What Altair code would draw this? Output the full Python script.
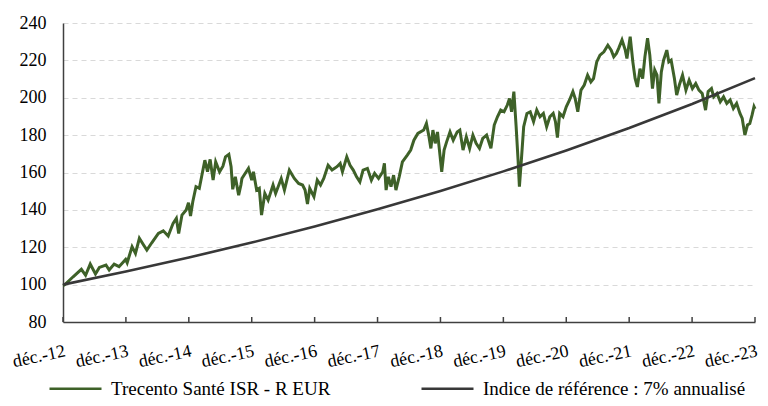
import altair as alt
import pandas as pd

# Years elapsed since end of December 2012
fund_t = [
    0.0, 0.031, 0.161, 0.292, 0.359, 0.433, 0.516, 0.578, 0.683, 0.734, 0.813, 0.891,
    0.995, 1.020, 1.098, 1.152, 1.214, 1.281, 1.333, 1.411, 1.516, 1.594, 1.672, 1.750,
    1.802, 1.839, 1.891, 1.958, 1.995, 2.027, 2.063, 2.114, 2.167, 2.203, 2.255, 2.297,
    2.339, 2.386, 2.427, 2.489, 2.542, 2.583, 2.636, 2.672, 2.698, 2.739, 2.792, 2.828,
    2.844, 2.895, 2.948, 3.000, 3.027, 3.078, 3.120, 3.156, 3.208, 3.261, 3.339, 3.380,
    3.469, 3.520, 3.598, 3.677, 3.745, 3.808, 3.848, 3.886, 3.922, 3.989, 4.042, 4.094,
    4.145, 4.214, 4.277, 4.355, 4.406, 4.442, 4.511, 4.563, 4.614, 4.667, 4.719, 4.770,
    4.839, 4.902, 4.953, 5.016, 5.083, 5.109, 5.136, 5.172, 5.214, 5.255, 5.292, 5.344,
    5.395, 5.473, 5.527, 5.578, 5.641, 5.734, 5.777, 5.813, 5.848, 5.880, 5.917, 5.953,
    5.984, 6.020, 6.058, 6.098, 6.152, 6.203, 6.266, 6.308, 6.359, 6.411, 6.464, 6.516,
    6.567, 6.620, 6.672, 6.734, 6.802, 6.855, 6.906, 6.958, 7.011, 7.063, 7.098, 7.130,
    7.167, 7.203, 7.234, 7.255, 7.286, 7.323, 7.375, 7.427, 7.480, 7.531, 7.583, 7.636,
    7.688, 7.739, 7.792, 7.828, 7.859, 7.895, 7.948, 8.000, 8.052, 8.105, 8.141, 8.183,
    8.234, 8.286, 8.339, 8.391, 8.433, 8.484, 8.536, 8.598, 8.661, 8.714, 8.755, 8.797,
    8.833, 8.886, 8.938, 8.964, 9.016, 9.058, 9.094, 9.130, 9.172, 9.214, 9.250, 9.292,
    9.328, 9.370, 9.406, 9.442, 9.473, 9.511, 9.547, 9.598, 9.630, 9.667, 9.719, 9.755,
    9.797, 9.848, 9.902, 9.953, 10.005, 10.058, 10.109, 10.161, 10.214, 10.255, 10.308, 10.344,
    10.395, 10.448, 10.500, 10.552, 10.605, 10.656, 10.708, 10.761, 10.797, 10.839, 10.880, 10.917,
    10.953, 10.984, 11.0,
]
fund_v = [
    99.5, 100.0, 104.2, 108.2, 105.0, 111.0, 105.7, 109.2, 110.5, 107.8, 111.0, 109.6,
    113.5, 111.7, 120.3, 116.7, 124.8, 121.2, 118.5, 122.4, 127.4, 128.8, 126.0, 132.8,
    135.5, 127.4, 137.2, 139.9, 143.8, 136.7, 144.4, 152.4, 151.5, 157.7, 166.6, 160.4,
    167.0, 155.9, 165.7, 160.4, 163.4, 168.4, 169.7, 163.1, 151.0, 157.7, 147.9, 153.3,
    156.8, 159.5, 162.2, 155.9, 160.4, 150.6, 151.5, 137.2, 148.8, 145.2, 153.3, 148.8,
    156.8, 150.6, 161.3, 156.8, 154.1, 153.3, 150.6, 143.1, 151.5, 147.0, 155.9, 153.3,
    156.8, 163.9, 161.3, 163.1, 164.9, 160.4, 168.4, 163.9, 161.3, 157.7, 155.0, 161.3,
    162.2, 155.9, 159.5, 156.8, 160.4, 164.9, 150.6, 157.7, 152.4, 158.6, 150.6, 157.7,
    165.7, 169.3, 172.0, 177.3, 180.9, 182.7, 186.2, 180.0, 172.9, 182.7, 175.6, 181.7,
    172.0, 160.4, 172.0, 176.4, 181.7, 177.3, 181.7, 182.7, 172.0, 179.1, 172.9, 180.0,
    175.6, 172.9, 178.2, 180.0, 172.9, 185.4, 189.8, 193.4, 192.5, 196.1, 199.6, 192.5,
    203.3, 184.5, 166.6, 152.4, 166.6, 184.5, 191.6, 192.5, 187.2, 193.4, 189.8, 191.6,
    184.5, 189.8, 191.6, 187.2, 178.7, 191.6, 189.8, 195.2, 198.8, 203.3, 199.6, 192.5,
    204.1, 206.8, 212.1, 208.5, 210.3, 219.2, 222.8, 224.6, 228.1, 225.5, 221.9, 223.7,
    226.4, 230.9, 225.5, 221.0, 232.7, 219.2, 210.3, 205.8, 215.6, 210.3, 221.9, 231.8,
    222.8, 204.9, 214.8, 212.1, 197.0, 213.8, 220.1, 225.5, 219.2, 220.1, 210.3, 201.4,
    206.8, 212.1, 204.1, 209.4, 204.9, 207.6, 204.1, 202.3, 193.4, 203.3, 204.9, 200.5,
    202.3, 197.8, 200.5, 197.0, 198.8, 194.3, 197.0, 191.6, 188.9, 180.0, 185.4, 186.2,
    190.7, 195.2, 194.0,
]

bench_t = [0, 1, 2, 3, 4, 5, 6, 7, 8, 9, 10, 11]
bench_v = [100.0, 107.0, 114.5, 122.5, 131.1, 140.3, 150.1, 160.6, 171.8, 183.8, 196.7, 210.5]

tick_years = [0, 1, 2, 3, 4, 5, 6, 7, 8, 9, 10, 11]
y_ticks = [80, 100, 120, 140, 160, 180, 200, 220, 240]
series_names = ["Trecento Santé ISR - R EUR", "Indice de référence : 7% annualisé"]
series_colors = ["#3e6128", "#383838"]

fund = pd.DataFrame({"t": fund_t, "v": fund_v, "s": series_names[0]})
bench = pd.DataFrame({"t": bench_t, "v": bench_v, "s": series_names[1]})
ticks = pd.DataFrame({"t": tick_years})

FONT = "Liberation Serif"
AXC = "#404040"

xscale = alt.Scale(domain=[0, 11], nice=False, zero=False)
yscale = alt.Scale(domain=[80, 240], nice=False, zero=False)

x_enc = alt.X(
    "t:Q",
    scale=xscale,
    axis=alt.Axis(
        values=tick_years,
        labelExpr="'déc.-' + (datum.value + 12)",
        labelAngle=-12,
        labelAlign="right",
        labelBaseline="top",
        labelPadding=20,
        ticks=False,
        tickSize=0,
        grid=False,
        domainColor=AXC,
        domainWidth=1.5,
        labelFont=FONT,
        labelFontSize=18,
        labelColor="#000000",
        title=None,
    ),
)
y_enc = alt.Y(
    "v:Q",
    scale=yscale,
    axis=alt.Axis(
        values=y_ticks,
        ticks=False,
        tickSize=0,
        grid=True,
        gridDash=[5, 4],
        gridColor="#d9d9d9",
        gridWidth=1,
        domainColor=AXC,
        domainWidth=1.5,
        labelPadding=17,
        labelFont=FONT,
        labelFontSize=18,
        labelColor="#000000",
        title=None,
    ),
)
color_enc = alt.Color(
    "s:N",
    scale=alt.Scale(domain=series_names, range=series_colors),
    sort=series_names,
    legend=alt.Legend(
        orient="none",
        legendX=-15,
        legendY=338,
        direction="horizontal",
        columns=2,
        columnPadding=85,
        symbolType="stroke",
        symbolSize=2704,
        symbolStrokeWidth=2.5,
        labelFont=FONT,
        labelFontSize=19,
        labelColor="#000000",
        labelLimit=500,
        labelOffset=8,
        padding=0,
        title=None,
    ),
)

tick_layer = alt.Chart(ticks).mark_rule(color=AXC, strokeWidth=1.5).encode(
    x=alt.X("t:Q", scale=xscale),
    y=alt.value(299),
    y2=alt.value(294),
)
fund_layer = alt.Chart(fund).mark_line(strokeWidth=3).encode(x=x_enc, y=y_enc, color=color_enc)
bench_layer = alt.Chart(bench).mark_line(strokeWidth=2.6).encode(x=x_enc, y=y_enc, color=color_enc)

chart = (
    alt.layer(fund_layer, bench_layer, tick_layer)
    .properties(
        width=692,
        height=299,
        autosize=alt.AutoSizeParams(type="none"),
        padding={"left": 55, "top": 15, "right": 5, "bottom": 76},
        background="#ffffff",
    )
    .configure_view(stroke=None)
)

chart.save("out.html", embed_options={"renderer": "svg", "actions": False})
